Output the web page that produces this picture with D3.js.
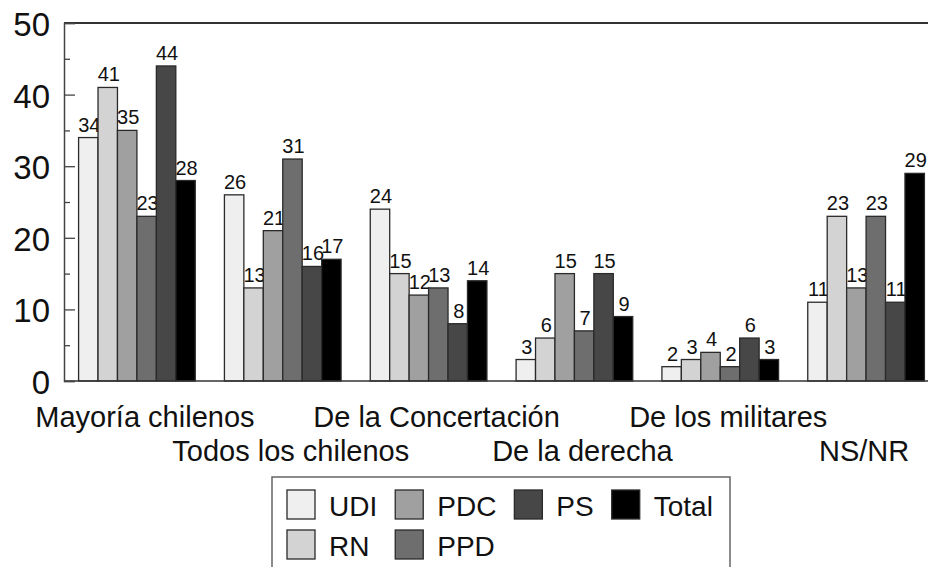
<!DOCTYPE html>
<html>
<head>
<meta charset="utf-8">
<script src="https://cdn.jsdelivr.net/npm/d3@7"></script>
<style>
  html, body { margin: 0; padding: 0; background: #fff; }
  svg { display: block; font-family: "Liberation Sans", Arial, Helvetica, sans-serif; }
</style>
</head>
<body>
<svg id="chart" width="928" height="567"></svg>
<script>
const categories = ["Mayoría chilenos", "Todos los chilenos", "De la Concertación", "De la derecha", "De los militares", "NS/NR"];
const seriesNames = ["UDI", "RN", "PDC", "PPD", "PS", "Total"];
const seriesColors = ["#efefef", "#d3d3d3", "#a0a0a0", "#6e6e6e", "#474747", "#000000"];
const valuesUDI   = [34, 26, 24, 3, 2, 11];
const valuesRN    = [41, 13, 15, 6, 3, 23];
const valuesPDC   = [35, 21, 12, 15, 4, 13];
const valuesPPD   = [23, 31, 13, 7, 2, 23];
const valuesPS    = [44, 16, 8, 15, 6, 11];
const valuesTotal = [28, 17, 14, 9, 3, 29];
const yTicks = [0, 10, 20, 30, 40, 50];
const yMinorTicks = [5, 15, 25, 35, 45];
const legendColumns = [["UDI", "RN"], ["PDC", "PPD"], ["PS"], ["Total"]];

(function () {
const seriesValues = [valuesUDI, valuesRN, valuesPDC, valuesPPD, valuesPS, valuesTotal];
const color = d3.scaleOrdinal().domain(seriesNames).range(seriesColors);

const svg = d3.select("#chart");
const W = 928;
const plotLeft = 64, plotTop = 23, plotBottom = 381;

const y = d3.scaleLinear().domain([0, 50]).range([plotBottom, plotTop]);
const x0 = d3.scaleBand().domain(categories).range([plotLeft, 939]).paddingInner(0.2).paddingOuter(0.1);
const x1 = d3.scaleBand().domain(seriesNames).range([0, x0.bandwidth()]);

// bars and value labels, drawn bar by bar
const gBars = svg.append("g");
categories.forEach((cat, ci) => {
  seriesNames.forEach((s, si) => {
    const v = seriesValues[si][ci];
    const bx = x0(cat) + x1(s);
    gBars.append("rect")
      .attr("x", bx)
      .attr("y", y(v))
      .attr("width", x1.bandwidth())
      .attr("height", y(0) - y(v))
      .attr("fill", color(s))
      .attr("stroke", "#2a2a2a")
      .attr("stroke-width", 1.3);
    gBars.append("text")
      .attr("x", bx + x1.bandwidth() / 2 + 1)
      .attr("y", y(v) - 6)
      .attr("text-anchor", "middle")
      .attr("font-size", 20)
      .attr("fill", "#111")
      .text(v);
  });
});

// frame lines
svg.append("line").attr("x1", plotLeft).attr("x2", W).attr("y1", plotTop).attr("y2", plotTop)
  .attr("stroke", "#333").attr("stroke-width", 2);
svg.append("line").attr("x1", plotLeft).attr("x2", W).attr("y1", plotBottom).attr("y2", plotBottom)
  .attr("stroke", "#333").attr("stroke-width", 1.5);

// y axis
const yAxis = d3.axisLeft(y).tickValues(yTicks).tickSize(-11).tickPadding(14).tickFormat(d3.format("d"));
const gy = svg.append("g").attr("transform", `translate(${plotLeft},0)`).call(yAxis);
gy.select(".domain").attr("stroke", "#444").attr("stroke-width", 1.5);
gy.selectAll(".tick line").attr("stroke", "#444").attr("stroke-width", 1.3);
gy.selectAll(".tick text")
  .attr("font-size", 33)
  .attr("font-family", "\"Liberation Sans\", Arial, sans-serif")
  .attr("fill", "#111")
  .attr("x", -14)
  .attr("dy", "0.38em");
const yMinor = d3.axisLeft(y).tickValues(yMinorTicks).tickSize(-6).tickFormat("");
const gym = svg.append("g").attr("transform", `translate(${plotLeft},0)`).call(yMinor);
gym.select(".domain").remove();
gym.selectAll(".tick line").attr("stroke", "#444").attr("stroke-width", 1.3);

// x labels, alternating rows
categories.forEach((cat, ci) => {
  const last = ci === categories.length - 1;
  svg.append("text")
    .attr("x", x0(cat) + x0.bandwidth() / 2 + (last ? -2 : 8))
    .attr("y", ci % 2 === 0 ? 427 : 461)
    .attr("text-anchor", "middle")
    .attr("font-size", 29)
    .attr("fill", "#111")
    .text(cat);
});

// legend
const lg = svg.append("g");
lg.append("rect")
  .attr("x", 272).attr("y", 477).attr("width", 458).attr("height", 120)
  .attr("fill", "#fff").attr("stroke", "#666").attr("stroke-width", 1.5);
let cx = 287;
legendColumns.forEach(col => {
  let maxW = 0;
  col.forEach((name, ri) => {
    const ry = 490 + ri * 40;
    lg.append("rect")
      .attr("x", cx).attr("y", ry).attr("width", 28).attr("height", 29)
      .attr("fill", color(name)).attr("stroke", "#2a2a2a").attr("stroke-width", 1.3);
    const t = lg.append("text")
      .attr("x", cx + 42).attr("y", ry + 26)
      .attr("font-size", 28)
      .attr("fill", "#111")
      .text(name);
    maxW = Math.max(maxW, t.node().getComputedTextLength());
  });
  cx += 42 + maxW + 18;
});
})();
</script>
</body>
</html>
